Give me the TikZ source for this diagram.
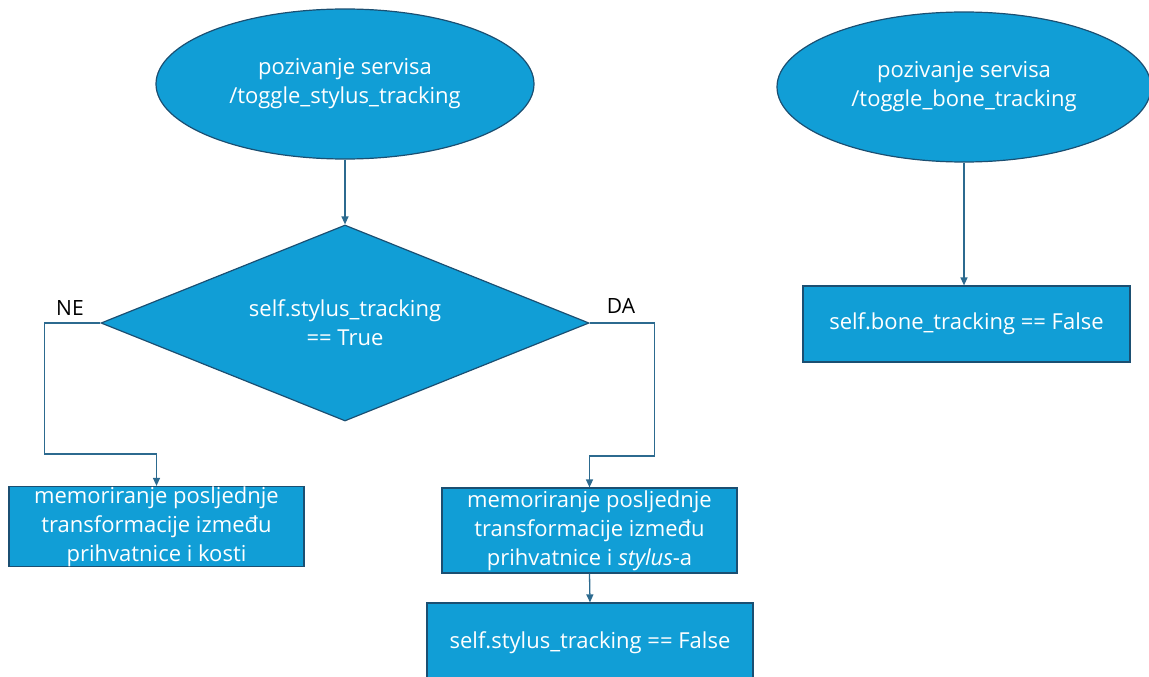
\documentclass[tikz,border=0pt]{standalone}
\usepackage{fontspec}
\setmainfont{Open Sans}
\usetikzlibrary{shapes.geometric,arrows.meta}
\definecolor{fillb}{HTML}{119ED6}
\definecolor{edgeb}{HTML}{1B4F72}
\definecolor{connb}{HTML}{2C6A8F}
\tikzset{
  base/.style={draw=edgeb, line width=1.2pt, fill=fillb, text=white, align=center, inner sep=0pt,
    font=\fontsize{22}{29}\selectfont},
  oval/.style={base, ellipse, minimum width=378pt, minimum height=150pt},
  decis/.style={base, diamond, aspect=2.49, minimum width=488pt, minimum height=196pt},
  procbox/.style={base, rectangle},
  conn/.style={draw=connb, line width=1.3pt, -{Triangle[length=8pt,width=7pt]}},
  lbl/.style={font=\fontsize{21}{24}\selectfont, text=black, inner sep=0pt}
}
\begin{document}
\begin{tikzpicture}[x=1pt,y=-1pt]
\useasboundingbox (0,0) rectangle (1149,677);
\node[oval] (e1) at (345,84) {pozivanje servisa\\/toggle\_stylus\_tracking};
\node[decis] (d) at (345,323) {self.stylus\_tracking\\== True};
\node[procbox, minimum width=295pt, minimum height=77pt] (b1) at (156.5,526.5) {memoriranje posljednje\\transformacije između\\prihvatnice i kosti};
\node[procbox, minimum width=295pt, minimum height=85pt] (b2) at (589.5,530.5) {memoriranje posljednje\\transformacije između\\prihvatnice i \textit{stylus}-a};
\node[procbox, minimum width=326pt, minimum height=80pt] (b3) at (590,643) {self.stylus\_tracking == False};
\node[oval, minimum width=374pt] (e2) at (964,87) {pozivanje servisa\\/toggle\_bone\_tracking};
\node[procbox, minimum width=327pt, minimum height=76pt] (b4) at (966.5,324) {self.bone\_tracking == False};
\node[lbl] (ne) at (70,308) {NE};
\node[lbl] (da) at (621,306) {DA};
\draw[conn] (e1.south) -- (d.north);
\draw[conn] (d.west) -| ++(-56,131) -| (b1.north);
\draw[conn] (d.east) -| ++(65,133) -| (b2.north);
\draw[conn] (b2.south) -- (b3.north);
\draw[conn] (e2.south) -- (e2.south |- b4.north);
\end{tikzpicture}
\end{document}
